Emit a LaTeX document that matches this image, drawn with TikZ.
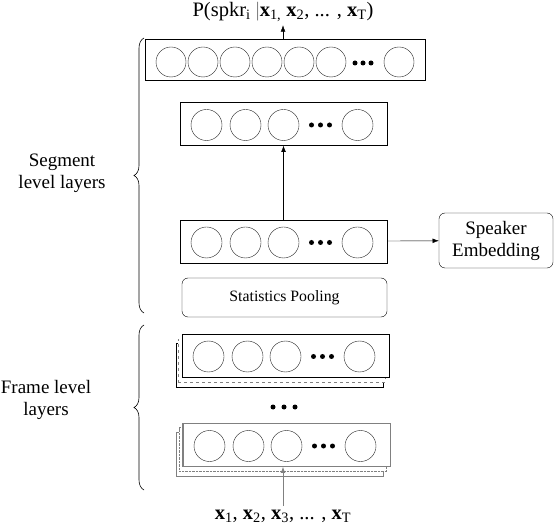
\documentclass[tikz,border=0pt]{standalone}
\usepackage{fontspec}
\setmainfont{Liberation Serif}
\usetikzlibrary{arrows.meta,decorations.pathreplacing}

\begin{document}
\begin{tikzpicture}[x=1pt, y=-1pt, every node/.style={font=\fontsize{19}{22}\selectfont}, >={Latex[length=2.2mm]},
  layer/.style={draw, fill=white, minimum width=207pt, minimum height=43pt, inner sep=0pt},
  unit/.style={draw=black!85, circle, minimum size=31pt, inner sep=0pt},
  dot/.style={fill, circle, minimum size=5pt, inner sep=0pt},
  rbox/.style={draw, rounded corners=6pt, align=center, inner sep=0pt},
  formula/.style={font=\fontsize{20.5}{24}\selectfont}]
	\useasboundingbox (0,0) rectangle (554,526);
	% output layer
	\node[layer, minimum width=280pt, minimum height=41pt] (out) at (285,59.5) {};
	\foreach \x [count=\i] in {171,203,235,267,299,331,399} {\node[unit, minimum size=30pt] (out-c\i) at (\x,62) {};}
	\foreach \x [count=\i] in {355,363,371} {\node[dot] (out-d\i) at (\x,63) {};}
	% frame level stacks
	\node[layer, minimum height=44pt] (f1-back) at (279.5,365) {};
	\node[layer, draw=gray, dashed] (f1-mid) at (281.5,360.5) {};
	\node[layer, minimum height=44pt, draw=gray] (f2-back) at (279.5,454.5) {};
	\node[layer, minimum height=44pt, draw=gray, densely dotted] (f2-mid) at (282.5,449.5) {};
	% hidden layers
	\foreach \n/\cx/\cy/\c in {h1/283.5/124/black, h2/283.5/241.5/black, f1/285.5/355.5/black, f2/286.5/445/gray} {
		\node[layer, draw=\c] (\n) at (\cx,\cy) {};
		\foreach \dx [count=\i] in {-77,-38,0,74} {\node[unit] (\n-c\i) at (\cx+\dx,\cy+1) {};}
		\foreach \dx [count=\i] in {28,37,46} {\node[dot] (\n-d\i) at (\cx+\dx,\cy+1) {};}
	}
	\draw[gray, line width=1.2pt] (f2.south west) rectangle (f2.north east);
	\foreach \x [count=\i] in {273,284,295} {\node[dot] (md\i) at (\x,407) {};}
	% pooling and embedding
	\node[rbox, minimum width=205pt, minimum height=39pt, font=\fontsize{15.8}{18}\selectfont] (pool) at (284.5,297.5) {Statistics Pooling};
	\node[rbox, minimum width=114pt, minimum height=55pt] (spk) at (496,240.5) {Speaker\\Embedding};
	% texts
	\node[formula] (post) at (283,12) {P(spkr\textsubscript{i} {\color{gray}|}\textbf{x}\textsubscript{1,} \textbf{x}\textsubscript{2}, ... , \textbf{x}\textsubscript{T})};
	\node[formula] (xin) at (283,516) {\textbf{x}\textsubscript{1}, \textbf{x}\textsubscript{2}, \textbf{x}\textsubscript{3}, ... , \textbf{x}\textsubscript{T}};
	\node[align=center] (seglbl) at (62,173) {Segment\\level layers};
	\node[align=center] (frmlbl) at (46,400) {Frame level\\layers};
	% braces
	\coordinate (sb) at (144,313);
	\coordinate (st) at (144,38);
	\coordinate (fb) at (144,490);
	\coordinate (ft) at (144,325);
	\draw[semithick, decorate, decoration={brace, amplitude=10pt}] (sb) -- (st);
	\draw[semithick, decorate, decoration={brace, amplitude=10pt}] (fb) -- (ft);
	% connectors
	\draw[->] (out.north -| post.south) -- (post.south);
	\draw[->] (h2) -- (h1);
	\draw[->] (h2) -- (spk);
	\draw[->, gray, thick] (xin.north) -- (xin.north |- f2.south);
\end{tikzpicture}
\end{document}
